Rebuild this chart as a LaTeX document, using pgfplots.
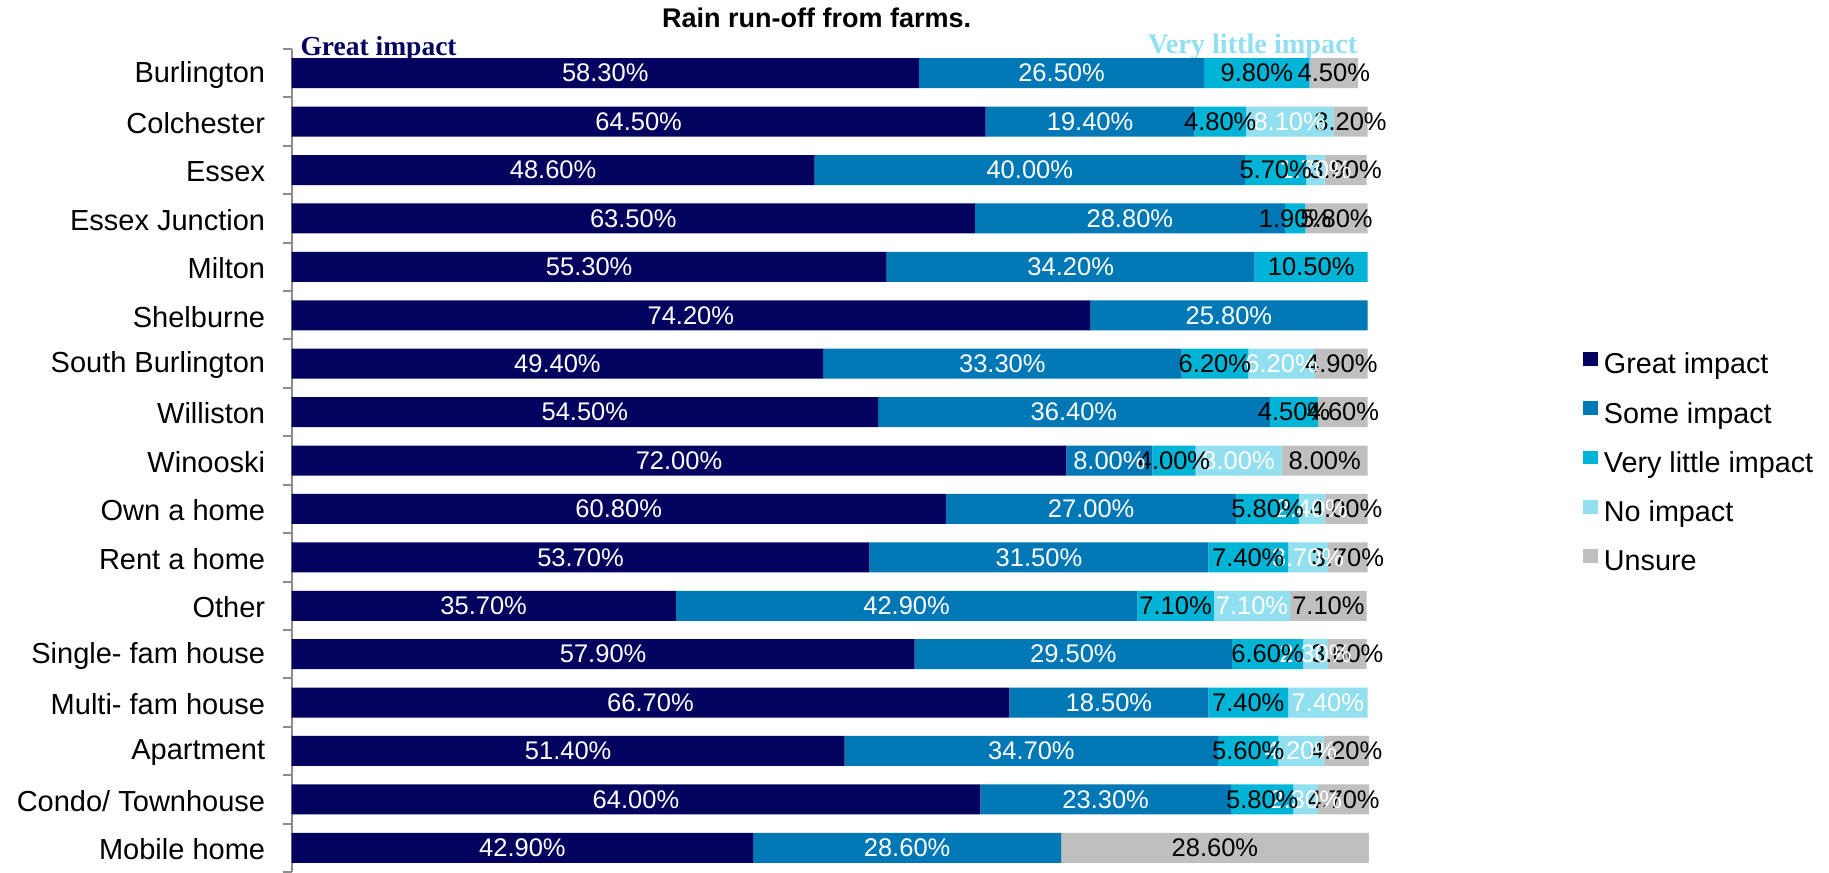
\documentclass[border=0pt]{standalone}
\usepackage{pgfplots}
\pgfplotsset{compat=1.18}
\usepackage{pgfplotstable}
\usepackage{fontspec}
\setmainfont{Liberation Sans}
\newfontfamily\headserif{Liberation Serif}

\definecolor{cGreat}{HTML}{03035F}
\definecolor{cSome}{HTML}{0078B6}
\definecolor{cLittle}{HTML}{00B4D8}
\definecolor{cNone}{HTML}{92DFEF}
\definecolor{cUnsure}{HTML}{BFBFBF}
\definecolor{axisgray}{HTML}{8C8C8C}

% share of answers per group, in percent
\pgfplotstableread{
idx great some little none unsure
0  58.3 26.5 9.8  0   4.5
1  64.5 19.4 4.8  8.1 3.2
2  48.6 40.0 5.7  1.7 3.9
3  63.5 28.8 1.9  0   5.8
4  55.3 34.2 10.5 0   0
5  74.2 25.8 0    0   0
6  49.4 33.3 6.2  6.2 4.9
7  54.5 36.4 4.5  0   4.6
8  72.0 8.0  4.0  8.0 8.0
9  60.8 27.0 5.8  2.4 4.0
10 53.7 31.5 7.4  3.7 3.7
11 35.7 42.9 7.1  7.1 7.1
12 57.9 29.5 6.6  2.3 3.6
13 66.7 18.5 7.4  7.4 0
14 51.4 34.7 5.6  4.2 4.2
15 64.0 23.3 5.8  2.3 4.7
16 42.9 28.6 0    0   28.6
}\farms

\pgfplotsset{
  lbl/.style={
    nodes near coords={\ifdim\pgfplotspointmeta pt>0pt \pgfmathprintnumber[fixed,fixed zerofill,precision=2,assume math mode=true]{\pgfplotspointmeta}\%\fi},
    every node near coord/.append style={text=#1, font=\fontsize{10.2}{12}\selectfont, inner sep=0pt},
  },
}

\begin{document}
\begin{tikzpicture}
\begin{axis}[
  xbar stacked,
  scale only axis,
  width=430.44pt, height=329.2pt,
  xmin=0, xmax=100,
  ymin=-0.5, ymax=16.5,
  y dir=reverse,
  clip=false,
  bar width=12pt,
  point meta=explicit symbolic,
  hide x axis,
  axis y line*=left,
  y axis line style={axisgray, line width=0.8pt},
  ytick={0,...,16},
  yticklabels={Burlington,Colchester,Essex,Essex Junction,Milton,Shelburne,South Burlington,Williston,Winooski,Own a home,Rent a home,Other,Single- fam house,Multi- fam house,Apartment,Condo/ Townhouse,Mobile home},
  major tick length=0pt,
  minor ytick={-0.5,0.5,...,16.5},
  minor tick length=3.3pt,
  tick align=outside,
  minor tick style={axisgray, line width=0.8pt},
  y tick label style={font=\fontsize{11.6}{13}\selectfont, inner sep=0pt, xshift=-10.4pt, yshift=-0.6pt},
  title={Rain run-off from farms.},
  every axis title/.style={at={(0.488,1)}, anchor=base, yshift=8.6pt, inner sep=0pt, font=\bfseries\fontsize{10.8}{13}\selectfont},
  legend style={at={(1.2,0.495)}, anchor=west, draw=none, fill=none, inner sep=0pt,
    row sep=8.46pt, column sep=2.4pt, font=\fontsize{11.5}{13}\selectfont,
    cells={anchor=west}, nodes={inner sep=0pt, text height=8.4pt, text depth=2.5pt}},
  legend image code/.code={\fill[#1,draw=none] (0pt,0.3pt) rectangle (5.8pt,5.8pt);},
]
\addplot[fill=cGreat, draw=none, lbl=white] table[x=great, y=idx, meta=great] {\farms};
\addplot[fill=cSome, draw=none, lbl=white] table[x=some, y=idx, meta=some] {\farms};
\addplot[fill=cLittle, draw=none, lbl=black] table[x=little, y=idx, meta=little] {\farms};
\addplot[fill=cNone, draw=none, lbl=white] table[x=none, y=idx, meta=none] {\farms};
\addplot[fill=cUnsure, draw=none, lbl=black] table[x=unsure, y=idx, meta=unsure] {\farms};
\legend{Great impact, Some impact, Very little impact, No impact, Unsure}

\node[anchor=base west, inner sep=0pt, text=cGreat, font=\headserif\bfseries\fontsize{11}{13}\selectfont]
  at (axis description cs:0,1) [xshift=3.4pt, yshift=-2.5pt] {Great impact};
\node[anchor=base east, inner sep=0pt, text=cNone, font=\headserif\bfseries\fontsize{11.3}{13}\selectfont]
  at (axis description cs:1,1) [xshift=-4.0pt, yshift=-1.9pt] {Very little impact};
\end{axis}
\pgfresetboundingbox
\useasboundingbox (-116.64pt,0pt) rectangle (614.96pt,348.8pt);
\end{tikzpicture}
\end{document}
